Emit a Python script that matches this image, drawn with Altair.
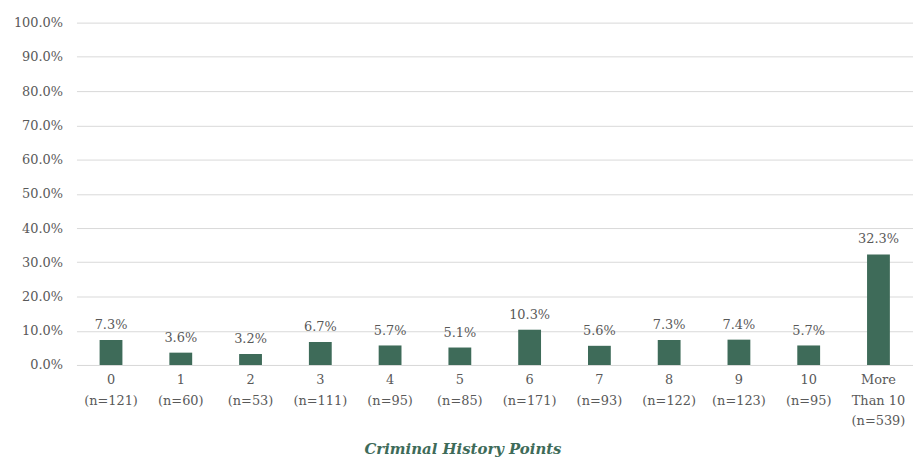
import altair as alt
import pandas as pd

categories = ["0|(n=121)", "1|(n=60)", "2|(n=53)", "3|(n=111)", "4|(n=95)", "5|(n=85)",
              "6|(n=171)", "7|(n=93)", "8|(n=122)", "9|(n=123)", "10|(n=95)", "More|Than 10|(n=539)"]
values = [0.073, 0.036, 0.032, 0.067, 0.057, 0.051, 0.103, 0.056, 0.073, 0.074, 0.057, 0.323]

df = pd.DataFrame({"cat": categories, "val": values})

FONT = "DejaVu Serif"
GREEN = "#3e6b59"
GRAY = "#595959"

x = alt.X("cat:N", sort=None, title="Criminal History Points",
          axis=alt.Axis(labelAngle=0, labelExpr="split(datum.label, '|')",
                        labelFont=FONT, labelFontSize=13, labelColor=GRAY,
                        labelPadding=9, labelLineHeight=20.5, ticks=False,
                        domainColor="#d9d9d9", titleFont=FONT, titleFontSize=15,
                        titleFontStyle="italic", titleFontWeight="bold",
                        titleColor=GREEN, titleX=389, titleY=89, titleBaseline="alphabetic"),
          scale=alt.Scale(paddingInner=0.67, paddingOuter=0.33))

y = alt.Y("val:Q", title=None,
          scale=alt.Scale(domain=[0, 1]),
          axis=alt.Axis(format=".1%", values=[i / 10 for i in range(11)],
                        labelFont=FONT, labelFontSize=13, labelColor=GRAY,
                        domain=False, ticks=False, gridColor="#d9d9d9",
                        labelPadding=14, minExtent=69, maxExtent=69))

base = alt.Chart(df).encode(x=x, y=y)
bars = base.mark_bar(size=23, color=GREEN)
labels = base.mark_text(dy=-11, baseline="alphabetic", font=FONT, fontSize=13, color=GRAY).encode(
    text=alt.Text("val:Q", format=".1%"))

chart = (bars + labels).properties(width=843, height=345, padding={"left": 0, "top": 7, "right": 0, "bottom": 0}).configure_view(stroke=None)

chart.save("out.html", embed_options={"renderer": "svg", "actions": False})
